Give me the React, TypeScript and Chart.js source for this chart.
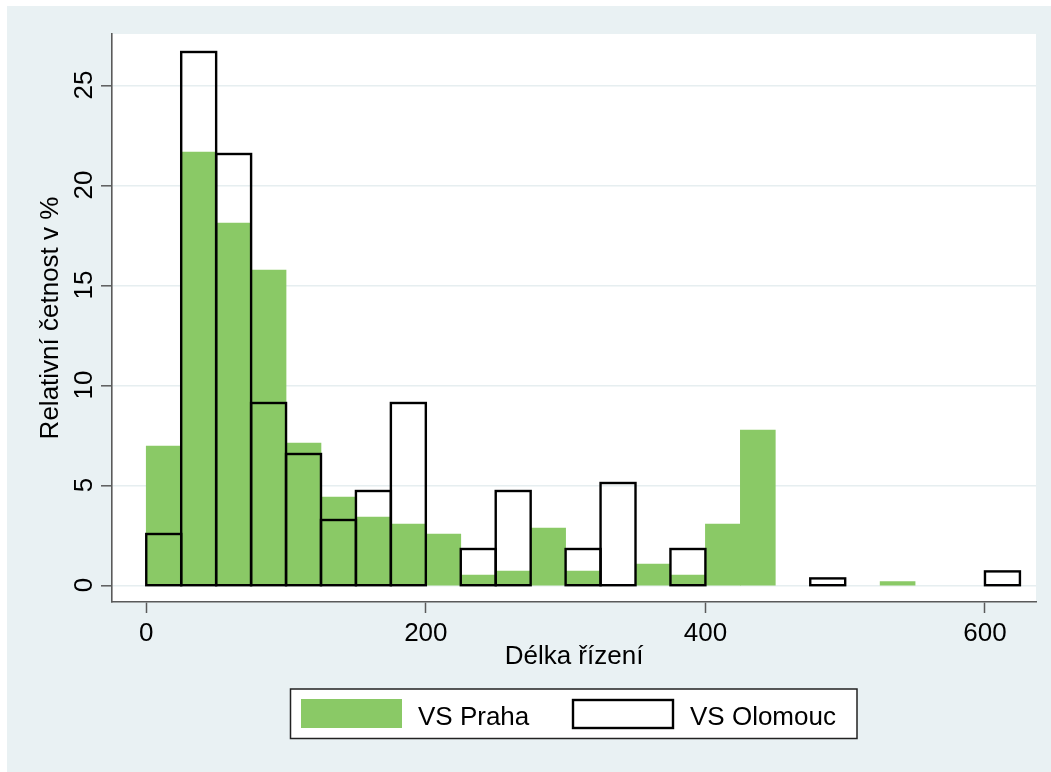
import React, { useEffect, useRef } from "react";
import { Chart, registerables } from "chart.js";

Chart.register(...registerables);

// Histogram bins (start of each 25-day bin)
const binStarts = [0, 25, 50, 75, 100, 125, 150, 175, 200, 225, 250, 275, 300, 325, 350, 375, 400, 425, 450, 475, 500, 525, 550, 575, 600];
const binWidth = 25;
// Relative frequency in % per bin
const prahaValues = [7.0, 21.7, 18.15, 15.8, 7.15, 4.45, 3.45, 3.1, 2.6, 0.55, 0.75, 2.9, 0.75, null, 1.1, 0.55, 3.1, 7.8, null, null, null, 0.22, null, null, null];
const olomoucValues = [2.6, 26.7, 21.6, 9.15, 6.6, 3.3, 4.75, 9.15, null, 1.85, 4.75, null, 1.85, 5.15, null, 1.85, null, null, null, 0.38, null, null, null, null, 0.73];
const seriesLabels = ["VS Praha", "VS Olomouc"];
const xTickValues = [0, 200, 400, 600];
const yTickValues = [0, 5, 10, 15, 20, 25];
const xTitle = "Délka řízení";
const yTitle = "Relativní četnost v %";

const GREEN = "#8ac966";
const BG = "#e9f1f3";
const GRID = "#e6eef0";
const AXIS = "#5a5a5a";
const FONT = '"Liberation Sans", Arial, sans-serif';
const FS = 26;

export default function App() {
  const ref = useRef<HTMLCanvasElement | null>(null);

  useEffect(() => {
    document.body.style.margin = "0";
    const canvas = ref.current!;
    const toPoints = (vals: (number | null)[]) =>
      binStarts.map((s, i) => ({ x: s + binWidth / 2, y: vals[i] }));

    const bgPlugin = {
      id: "bg",
      beforeDraw(chart: any) {
        const { ctx, chartArea } = chart;
        ctx.save();
        ctx.fillStyle = "#ffffff";
        ctx.fillRect(0, 0, chart.width, chart.height);
        ctx.fillStyle = BG;
        ctx.fillRect(7, 6, chart.width - 7, chart.height - 6);
        ctx.fillStyle = "#ffffff";
        ctx.fillRect(chartArea.left, chartArea.top, chartArea.right - chartArea.left, chartArea.bottom - chartArea.top);
        ctx.restore();
      },
    };

    const outlinePlugin = {
      id: "outline",
      afterDatasetsDraw(chart: any) {
        const { ctx } = chart;
        const meta = chart.getDatasetMeta(1);
        ctx.save();
        ctx.strokeStyle = "#000";
        ctx.lineWidth = 2.4;
        meta.data.forEach((el: any, i: number) => {
          if (olomoucValues[i] == null) return;
          const p = el.getProps(["x", "y", "base", "width"], true);
          ctx.strokeRect(p.x - p.width / 2, p.y, p.width, p.base - p.y);
        });
        ctx.restore();
      },
    };

    const yLabelPlugin = {
      id: "ylabels",
      afterDraw(chart: any) {
        const { ctx } = chart;
        const ys = chart.scales.y;
        ctx.save();
        ctx.fillStyle = "#000";
        ctx.font = `${FS}px ${FONT}`;
        ctx.textAlign = "center";
        ctx.textBaseline = "alphabetic";
        yTickValues.forEach((v) => {
          const py = ys.getPixelForValue(v);
          ctx.save();
          ctx.translate(92, py - 1);
          ctx.rotate(-Math.PI / 2);
          ctx.fillText(String(v), 0, 0);
          ctx.restore();
        });
        ctx.restore();
      },
    };

    const legendPlugin = {
      id: "customLegend",
      afterDraw(chart: any) {
        const { ctx } = chart;
        ctx.save();
        ctx.fillStyle = "#ffffff";
        ctx.fillRect(290.5, 689, 566.5, 49.5);
        ctx.strokeStyle = "#222";
        ctx.lineWidth = 1.5;
        ctx.strokeRect(290.5, 689, 566.5, 49.5);
        ctx.fillStyle = chart.data.datasets[0].backgroundColor;
        ctx.fillRect(301, 699, 101, 29);
        ctx.strokeStyle = "#000";
        ctx.lineWidth = 2.4;
        ctx.strokeRect(573, 700, 100, 28);
        ctx.fillStyle = "#000";
        ctx.font = `${FS}px ${FONT}`;
        ctx.textAlign = "left";
        ctx.textBaseline = "alphabetic";
        ctx.fillText(chart.data.datasets[0].label, 418, 725);
        ctx.fillText(chart.data.datasets[1].label, 690, 725);
        ctx.restore();
      },
    };

    const chart = new Chart(canvas, {
      type: "bar",
      data: {
        datasets: [
          {
            label: seriesLabels[0],
            data: toPoints(prahaValues) as any,
            backgroundColor: GREEN,
            borderWidth: 0,
            grouped: false,
            barPercentage: 1,
            categoryPercentage: 1,
            order: 2,
          } as any,
          {
            label: seriesLabels[1],
            data: toPoints(olomoucValues) as any,
            backgroundColor: "rgba(0,0,0,0)",
            borderWidth: 0,
            grouped: false,
            barPercentage: 1,
            categoryPercentage: 1,
            order: 1,
          } as any,
        ],
      },
      options: {
        responsive: false,
        animation: false,
        layout: { padding: { left: 0, top: 34, right: 15, bottom: 0 } },
        plugins: { legend: { display: false }, tooltip: { enabled: false } },
        font: { family: FONT, size: FS },
        scales: {
          x: {
            type: "linear",
            min: -24.5,
            max: 636.5,
            offset: false,
            afterFit(scale: any) {
              scale.height = 170;
            },
            afterBuildTicks(scale: any) {
              scale.ticks = xTickValues.map((v) => ({ value: v }));
            },
            grid: {
              drawOnChartArea: false,
              drawTicks: true,
              tickLength: 11,
              tickColor: AXIS,
              tickWidth: 1.5,
              offset: false,
            },
            border: { display: true, color: AXIS, width: 1.6 },
            ticks: {
              color: "#000",
              font: { family: FONT, size: FS },
              padding: 5,
              maxRotation: 0,
              minRotation: 0,
              autoSkip: false,
            },
            title: {
              display: true,
              text: xTitle,
              color: "#000",
              font: { family: FONT, size: FS },
              padding: { top: 0, bottom: 100 },
            },
          } as any,
          y: {
            type: "linear",
            min: -0.8,
            max: 27.6,
            afterFit(scale: any) {
              scale.width = 112;
            },
            afterBuildTicks(scale: any) {
              scale.ticks = yTickValues.map((v) => ({ value: v }));
            },
            grid: {
              color: GRID,
              lineWidth: 1.6,
              drawTicks: true,
              tickLength: 11,
              tickColor: AXIS,
              tickWidth: 1.5,
            },
            border: { display: true, color: AXIS, width: 1.6 },
            ticks: { display: false },
            title: {
              display: true,
              text: yTitle,
              color: "#000",
              font: { family: FONT, size: FS },
              padding: { top: 35, bottom: 0 },
            },
          } as any,
        },
      },
      plugins: [bgPlugin, outlinePlugin, yLabelPlugin, legendPlugin],
    });
    return () => chart.destroy();
  }, []);

  return <canvas ref={ref} width={1051} height={772} style={{ display: "block" }} />;
}
